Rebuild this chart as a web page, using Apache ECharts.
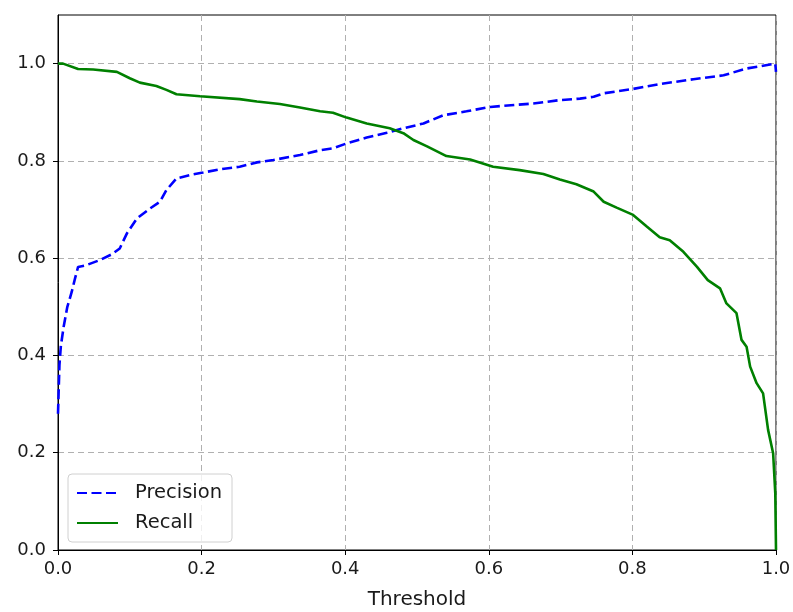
<!DOCTYPE html>
<html>
<head>
<meta charset="utf-8">
<script src="https://cdn.jsdelivr.net/npm/echarts@6/dist/echarts.min.js"></script>
<style>
  html, body { margin: 0; padding: 0; background: #fff; }
  #chart { width: 793px; height: 612px; }
</style>
</head>
<body>
<div id="chart"></div>
<script>
// ---- Data ----
var precisionX = [0, 0.002, 0.004, 0.008, 0.013, 0.019, 0.024, 0.028, 0.038, 0.058, 0.075, 0.086, 0.096, 0.110, 0.128, 0.142, 0.151, 0.165, 0.184, 0.202, 0.226, 0.253, 0.277, 0.300, 0.337, 0.365, 0.383, 0.402, 0.430, 0.458, 0.481, 0.509, 0.537, 0.569, 0.602, 0.662, 0.699, 0.727, 0.746, 0.760, 0.801, 0.838, 0.885, 0.927, 0.959, 0.999, 1.0];
var precisionY = [0.28, 0.38, 0.42, 0.46, 0.50, 0.53, 0.56, 0.582, 0.585, 0.596, 0.608, 0.620, 0.651, 0.682, 0.702, 0.716, 0.740, 0.764, 0.771, 0.776, 0.783, 0.788, 0.797, 0.802, 0.812, 0.822, 0.826, 0.836, 0.848, 0.858, 0.867, 0.877, 0.894, 0.902, 0.911, 0.918, 0.925, 0.928, 0.932, 0.939, 0.948, 0.958, 0.968, 0.976, 0.990, 1.0, 0.983];

var recallX = [0, 0.007, 0.028, 0.049, 0.082, 0.100, 0.114, 0.137, 0.151, 0.165, 0.198, 0.253, 0.277, 0.309, 0.337, 0.365, 0.383, 0.402, 0.430, 0.462, 0.481, 0.495, 0.514, 0.541, 0.574, 0.606, 0.643, 0.676, 0.699, 0.722, 0.746, 0.760, 0.778, 0.801, 0.820, 0.838, 0.852, 0.871, 0.890, 0.905, 0.922, 0.931, 0.945, 0.952, 0.959, 0.964, 0.973, 0.982, 0.989, 0.996, 0.999, 1.0];
var recallY = [1.0, 1.0, 0.989, 0.988, 0.983, 0.970, 0.961, 0.954, 0.946, 0.937, 0.933, 0.927, 0.922, 0.917, 0.910, 0.902, 0.899, 0.889, 0.877, 0.867, 0.857, 0.843, 0.830, 0.810, 0.803, 0.788, 0.781, 0.773, 0.762, 0.752, 0.737, 0.716, 0.704, 0.689, 0.665, 0.643, 0.637, 0.613, 0.582, 0.555, 0.538, 0.507, 0.487, 0.432, 0.418, 0.377, 0.343, 0.322, 0.247, 0.199, 0.117, 0.0];

var xTicks = [0, 0.2, 0.4, 0.6, 0.8, 1.0];
var yTicks = [0, 0.2, 0.4, 0.6, 0.8, 1.0];
var seriesNames = ['Precision', 'Recall'];
var xAxisTitle = 'Threshold';

function pairs(xs, ys) {
  var out = [];
  for (var i = 0; i < xs.length; i++) out.push([xs[i], ys[i]]);
  return out;
}

var FONT = 'DejaVu Sans';
var TXT = '#1a1a1a';
var gridLine = { show: true, lineStyle: { color: '#b0b0b0', width: 1, type: [6, 4] } };

var chart = echarts.init(document.getElementById('chart'), null, { renderer: 'canvas' });
chart.setOption({
  animation: false,
  backgroundColor: '#fff',
  textStyle: { fontFamily: FONT },
  grid: {
    left: 58, right: 17, top: 15, bottom: 62,
    show: true, borderColor: '#000', borderWidth: 1, backgroundColor: 'transparent',
    containLabel: false,
    outerBoundsMode: 'none'
  },
  xAxis: {
    type: 'value', min: 0, max: 1, interval: 0.2,
    name: xAxisTitle, nameLocation: 'middle', nameGap: 40,
    nameTextStyle: { fontFamily: FONT, fontSize: 20, color: TXT },
    axisLine: { show: true, onZero: false, lineStyle: { color: '#000', width: 1 } },
    axisTick: { show: true, inside: false, length: 5, lineStyle: { color: '#000' }, customValues: xTicks },
    axisLabel: { fontFamily: FONT, fontSize: 18, color: TXT, margin: 10, customValues: xTicks,
      formatter: function (v) { return v.toFixed(1); } },
    splitLine: gridLine
  },
  yAxis: {
    type: 'value', min: 0, max: 1.1, interval: 0.2,
    axisLine: { show: true, onZero: false, lineStyle: { color: '#000', width: 1 } },
    axisTick: { show: true, inside: false, length: 5, lineStyle: { color: '#000' }, customValues: yTicks },
    axisLabel: { fontFamily: FONT, fontSize: 18, color: TXT, margin: 12, customValues: yTicks,
      formatter: function (v) { return v.toFixed(1); } },
    splitLine: gridLine
  },
  legend: {
    orient: 'vertical',
    left: 68, top: 474,
    data: seriesNames,
    backgroundColor: 'rgba(255,255,255,0.8)',
    borderColor: '#d0d0d0', borderWidth: 1, borderRadius: 4,
    padding: [9, 10, 9, 8],
    itemWidth: 41, itemHeight: 14, itemGap: 10,
    itemStyle: { opacity: 0 },
    textStyle: { fontFamily: FONT, fontSize: 19.5, color: TXT, lineHeight: 20, padding: [0, 0, 0, 12] }
  },
  series: [
    {
      name: seriesNames[0], type: 'line', symbol: 'none', showSymbol: false,
      data: pairs(precisionX, precisionY),
      lineStyle: { color: '#0000ff', width: 2.6, type: [10, 4.5] },
      itemStyle: { color: '#0000ff' },
      z: 3
    },
    {
      name: seriesNames[1], type: 'line', symbol: 'none', showSymbol: false,
      data: pairs(recallX, recallY),
      lineStyle: { color: '#008000', width: 2.6, type: 'solid' },
      itemStyle: { color: '#008000' },
      z: 3
    }
  ]
});
</script>
</body>
</html>
